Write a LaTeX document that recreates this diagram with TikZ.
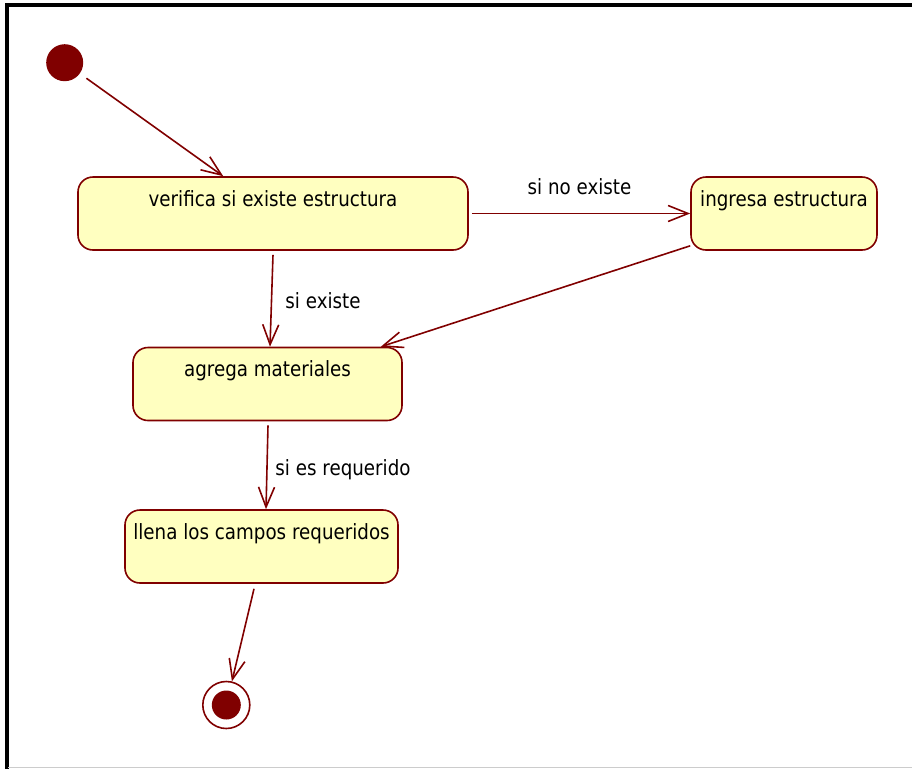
\documentclass[tikz,border=0pt]{standalone}
\usepackage{fontspec}
\setmainfont[FakeStretch=0.87]{DejaVu Sans}
\usetikzlibrary{arrows.meta,calc}
\definecolor{umlred}{RGB}{128,0,0}
\definecolor{umlfill}{RGB}{255,255,192}
\begin{document}
\begin{tikzpicture}[x=1pt,y=-1pt,
  every node/.style={font=\fontsize{21}{25}\selectfont},
  state/.style={draw=umlred, fill=umlfill, line width=1.6pt, rounded corners=15pt,
    inner xsep=4pt, inner ysep=0pt, text height=29pt, text depth=44pt, anchor=center},
  trans/.style={draw=umlred, line width=1.6pt,
    -{Straight Barb[length=20pt,width=16pt,line width=1.6pt]}},
  lbl/.style={text=black, inner sep=0pt}]
\useasboundingbox (0,0) rectangle (912,769);
% diagram frame
\draw[black, line width=4pt] (912,5.3) -- (6.5,5.3) -- (6.5,769);
\draw[gray!40, line width=1pt] (8,767.5) -- (912,767.5);

% states
\node[circle, fill=umlred, minimum size=37pt, inner sep=0pt] (init) at (64.7,62.7) {};
\node[state, minimum width=390pt] (verifica) at (273,213.5) {verifica si existe estructura};
\node[state, minimum width=186pt] (ingresa) at (784,213.5) {ingresa estructura};
\node[state, minimum width=269pt] (agrega) at (267.5,384) {agrega materiales};
\node[state, minimum width=273pt] (llena) at (261.5,546.5) {llena los campos requeridos};
\node[circle, draw=umlred, fill=white, line width=1.6pt, minimum size=47pt, inner sep=0pt] (fin) at (226.3,705) {};
\node[circle, fill=umlred, minimum size=29pt, inner sep=0pt] at (fin) {};

% transitions
\draw[trans, shorten <=8pt] (init) -- ($(verifica.north west)+(146,0)$);
\draw[trans, shorten <=3pt] (verifica.east) -- (ingresa.west)
  node[lbl, midway, above=18pt] (lnoexiste) {si no existe};
\draw[trans] ($(verifica.south)+(0,4)$) -- ($(agrega.north)+(2.5,0)$);
\node[lbl] (lexiste) at (323,301) {si existe};
\draw[trans] ($(ingresa.south west)+(0,-5)$) -- ($(agrega.north east)+(-22,0)$);
\draw[trans] ($(agrega.south)+(0.5,4)$) -- ($(llena.north)+(4.5,0)$);
\node[lbl] (lrequerido) at (343,470) {si es requerido};
\draw[trans] ($(llena.south)+(-7.5,5)$) -- (fin);
\end{tikzpicture}
\end{document}
